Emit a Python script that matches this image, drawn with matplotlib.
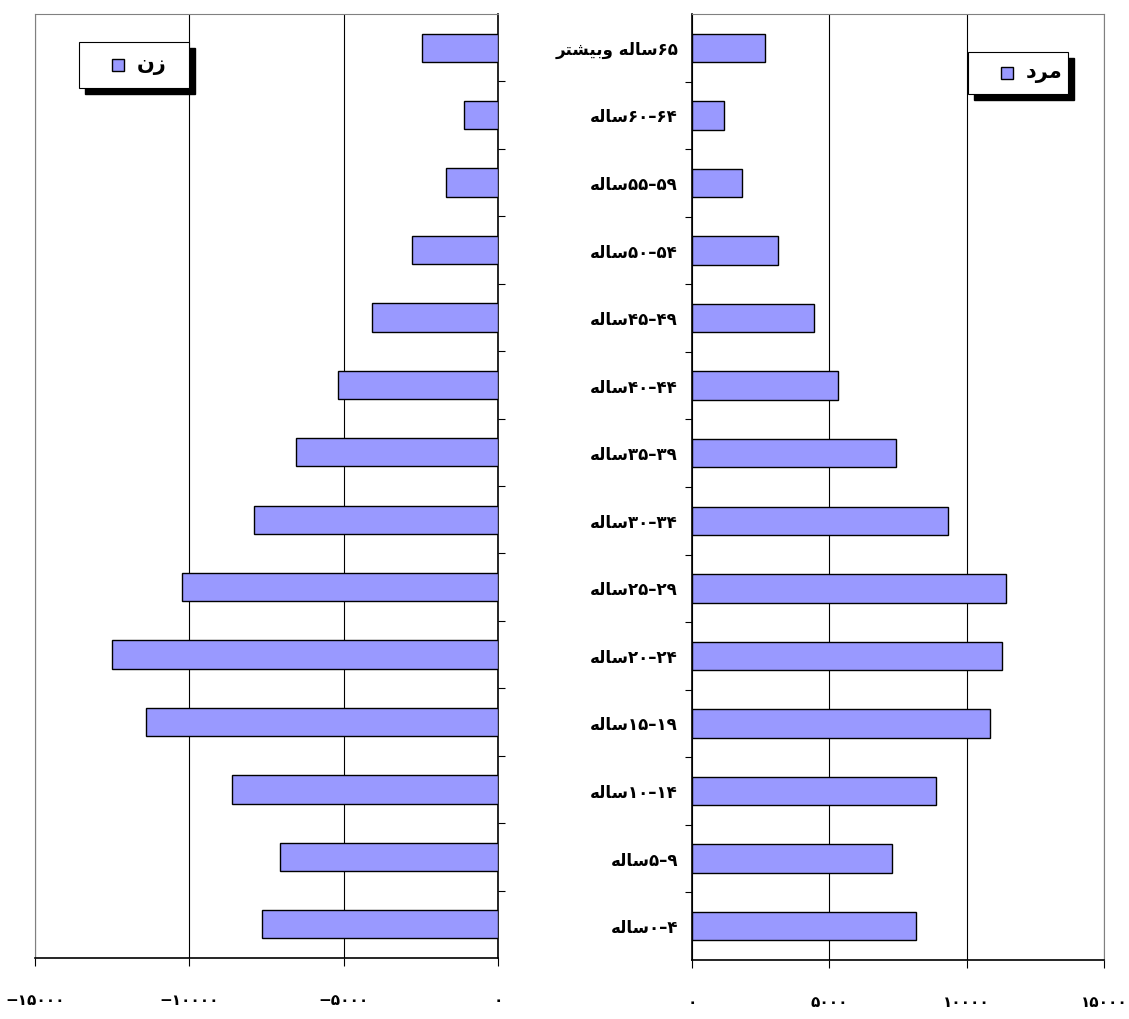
import matplotlib
matplotlib.use("Agg")
import matplotlib.pyplot as plt
import matplotlib.patches as mpatches
from matplotlib.ticker import FixedLocator, FuncFormatter
import numpy as np

# age groups, bottom to top (logical Persian text)
age_groups = [
    "۰-۴ساله", "۵-۹ساله", "۱۰-۱۴ساله", "۱۵-۱۹ساله", "۲۰-۲۴ساله",
    "۲۵-۲۹ساله", "۳۰-۳۴ساله", "۳۵-۳۹ساله", "۴۰-۴۴ساله", "۴۵-۴۹ساله",
    "۵۰-۵۴ساله", "۵۵-۵۹ساله", "۶۰-۶۴ساله", "۶۵ساله وبیشتر",
]
women = [7640, 7060, 8610, 11390, 12490, 10230, 7900, 6540, 5180, 4080,
         2780, 1680, 1100, 2460]
men = [8150, 7280, 8880, 10850, 11290, 11430, 9320, 7430, 5310, 4440,
       3130, 1820, 1160, 2660]
women_label = "زن"
men_label = "مرد"
x_ticks = [0, 5000, 10000, 15000]

BAR = "#9999FF"
GRAY = "#808080"

# minimal Arabic-script shaping (matplotlib has no bidi / joining)
FORMS = {  # isolated, final, initial, medial
    "ا": ("\uFE8D", "\uFE8E", None, None),
    "ب": ("\uFE8F", "\uFE90", "\uFE91", "\uFE92"),
    "ت": ("\uFE95", "\uFE96", "\uFE97", "\uFE98"),
    "د": ("\uFEA9", "\uFEAA", None, None),
    "ر": ("\uFEAD", "\uFEAE", None, None),
    "ز": ("\uFEAF", "\uFEB0", None, None),
    "س": ("\uFEB1", "\uFEB2", "\uFEB3", "\uFEB4"),
    "ش": ("\uFEB5", "\uFEB6", "\uFEB7", "\uFEB8"),
    "ل": ("\uFEDD", "\uFEDE", "\uFEDF", "\uFEE0"),
    "م": ("\uFEE1", "\uFEE2", "\uFEE3", "\uFEE4"),
    "ن": ("\uFEE5", "\uFEE6", "\uFEE7", "\uFEE8"),
    "ه": ("\uFEE9", "\uFEEA", "\uFEEB", "\uFEEC"),
    "و": ("\uFEED", "\uFEEE", None, None),
    "ی": ("\uFBFC", "\uFBFD", "\uFEF3", "\uFEF4"),
}
NUM = set("۰۱۲۳۴۵۶۷۸۹0123456789-–")


def shape(s):
    out = []
    for i, c in enumerate(s):
        if c not in FORMS:
            out.append("–" if c == "-" else c)
            continue
        prev = s[i - 1] if i > 0 else ""
        nxt = s[i + 1] if i + 1 < len(s) else ""
        jp = prev in FORMS and FORMS[prev][2] is not None
        jn = nxt in FORMS and FORMS[c][2] is not None
        iso, fin, ini, med = FORMS[c]
        out.append(med if jp and jn else ini if jn else fin if jp else iso)
    # split into runs: numbers stay LTR, the rest is RTL
    runs, cur, cur_num = [], "", None
    for orig, c in zip(s, out):
        isnum = orig in NUM
        if cur and isnum != cur_num:
            runs.append((cur, cur_num))
            cur = ""
        cur += c
        cur_num = isnum
    if cur:
        runs.append((cur, cur_num))
    return "".join(r if n else r[::-1] for r, n in reversed(runs))


def fa_num(v, _=None):
    digits = str(int(abs(round(v)))).translate(str.maketrans("0123456789", "۰۱۲۳۴۵۶۷۸۹"))
    return ("\u2212" if v < 0 else "") + digits


def fake_legend(ax, x0, y0, w, h, text):
    tr = ax.transAxes
    ox, oy = 6 / ax.bbox.width, 6 / ax.bbox.height
    ax.add_patch(mpatches.Rectangle((x0 + ox, y0 - oy), w, h, transform=tr,
                                    facecolor="black", edgecolor="black", zorder=5, clip_on=False))
    ax.add_patch(mpatches.Rectangle((x0, y0), w, h, transform=tr, facecolor="white",
                                    edgecolor="black", lw=0.8, zorder=6, clip_on=False))
    sw, sh = 12 / ax.bbox.width, 12 / ax.bbox.height
    sx = x0 + 33 / ax.bbox.width
    ax.add_patch(mpatches.Rectangle((sx, y0 + h / 2 - sh / 2), sw, sh, transform=tr,
                                    facecolor=BAR, edgecolor="black", lw=1, zorder=7, clip_on=False))
    ax.text(sx + sw + 13 / ax.bbox.width, y0 + h / 2, shape(text), transform=tr,
            ha="left", va="center", fontsize=15, fontweight="bold", zorder=8)


plt.rcParams.update({"font.family": ["DejaVu Sans"], "font.weight": "bold"})

fig = plt.figure(figsize=(11.29, 10.19), dpi=100)
ax_w = fig.add_axes([35 / 1129, 1 - 958 / 1019, 463 / 1129, 944 / 1019])
ax_m = fig.add_axes([692 / 1129, 1 - 960 / 1019, 412 / 1129, 946 / 1019])

y = np.arange(len(age_groups))
ax_w.barh(y, -np.asarray(women), height=0.42, color=BAR, edgecolor="black", lw=1, zorder=3)
ax_m.barh(y, men, height=0.42, color=BAR, edgecolor="black", lw=1, zorder=3)

for ax in (ax_w, ax_m):
    ax.set_ylim(-0.5, len(age_groups) - 0.5)
    ax.grid(axis="x", color="black", lw=0.8, zorder=0)
    ax.yaxis.set_minor_locator(FixedLocator(np.arange(0.5, len(age_groups) - 0.5, 1)))
    ax.tick_params(axis="y", which="minor", length=5, width=0.8, direction="out")
    ax.tick_params(axis="x", length=6, width=0.8, pad=19, labelsize=11)
    ax.xaxis.set_major_formatter(FuncFormatter(fa_num))
    for lab in ax.get_xticklabels():
        lab.set_fontweight("bold")

# women, mirrored
ax_w.set_xlim(-15000, 0)
ax_w.set_xticks([-v for v in x_ticks])
ax_w.yaxis.tick_right()
ax_w.set_yticks(y)
ax_w.set_yticklabels([])
ax_w.tick_params(axis="y", which="major", length=0)
for s in ("left", "top"):
    ax_w.spines[s].set_color(GRAY)
ax_w.spines["right"].set_linewidth(1.2)
ax_w.spines["bottom"].set_linewidth(1.2)

# men
ax_m.set_xlim(0, 15000)
ax_m.set_xticks(x_ticks)
ax_m.set_yticks(y)
ax_m.set_yticklabels([shape(a) for a in age_groups], fontsize=12, fontweight="bold")
ax_m.tick_params(axis="y", which="major", length=0, pad=10)
for s in ("right", "top"):
    ax_m.spines[s].set_color(GRAY)
ax_m.spines["left"].set_linewidth(1.2)
ax_m.spines["bottom"].set_linewidth(1.2)

fake_legend(ax_w, 44 / 463, 1 - 74 / 944, 110 / 463, 46 / 944, women_label)
fake_legend(ax_m, 276 / 412, 1 - 80 / 946, 100 / 412, 42 / 946, men_label)

fig.savefig("out.png", dpi=100)
